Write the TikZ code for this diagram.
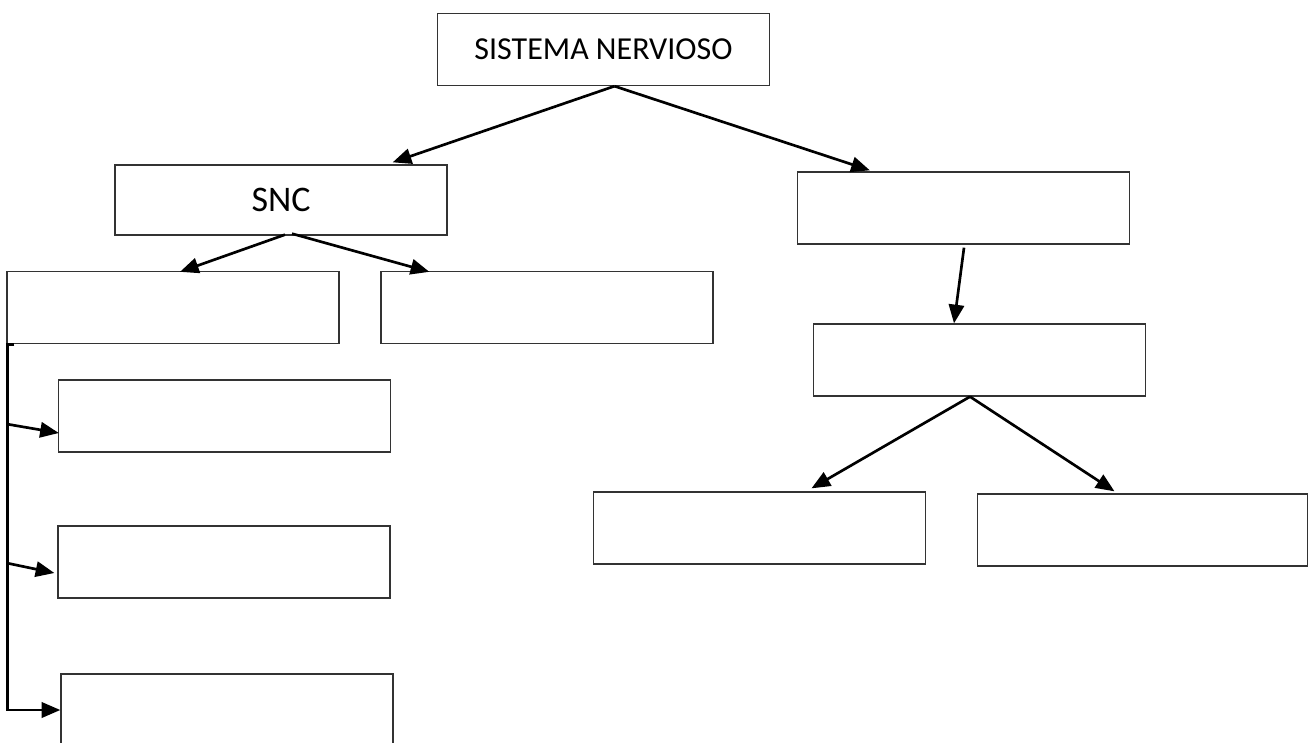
\documentclass[tikz,border=0pt]{standalone}
\usepackage{fontspec}
\setmainfont{Carlito}
\usetikzlibrary{arrows.meta, calc}

\begin{document}
\begin{tikzpicture}[x = 0.75pt, y = -0.75pt, > = {Triangle[length = 14pt, width = 11.5pt]},
	box/.style = {rectangle, draw = black!80, line width = 1pt, inner sep = 0pt, minimum width = 249pt, minimum height = 54pt},
	conn/.style = {->, line width = 2pt, black}]

	\useasboundingbox (0, 0) rectangle (1308, 742);
	\clip (0, 0) rectangle (1308, 742);

	% Boxes

	\node[box, font = \fontsize{24}{28}\selectfont] (sn) at (603.5, 49.5) {SISTEMA NERVIOSO};
	\node[box, minimum height = 52.5pt, font = \fontsize{27}{31}\selectfont] (snc) at (281, 200) {SNC};
	\node[box] (enc) at (173, 307.5) {};
	\node[box] (med) at (547, 307.5) {};
	\node[box] (snp) at (963.5, 208) {};
	\node[box] (som) at (979.5, 360) {};
	\node[box] (sim) at (759.5, 528) {};
	\node[box, minimum width = 248pt] (par) at (1142.5, 530) {};
	\node[box] (ce1) at (224.5, 416) {};
	\node[box] (ce2) at (224, 562) {};
	\node[box] (ce3) at (227, 710) {};

	% Arrows between boxes

	\begin{scope}[conn]

		\draw ($(sn.south) + (11, 0)$) -- ($(snc.north east) + (-55, -2)$);
		\draw ($(sn.south) + (11, 0)$) -- ($(snp.north west) + (73, -1)$);

		\draw ($(snc.south) + (4, -1)$) -- ($(enc.north) + (7, 1)$);
		\draw ($(snc.south) + (11, -2)$) -- ($(med.north west) + (49, 1)$);

		\draw ($(snp.south) + (0.5, 3)$) -- ($(som.north) + (-25.5, 0)$);
		\draw ($(som.south) + (-9.5, 0)$) -- ($(sim.north) + (52, -3)$);
		\draw ($(som.south) + (-9.5, 0)$) -- ($(par.north) + (-28, -2)$);

		% Branch down the left side

		\draw ($(enc.south west) + (8, 0)$) -- ($(enc.south west) + (1, 0)$) |- (ce3.west);
		\draw ($(enc.south west) + (1, 80)$) -- ($(ce1.west) + (1, 17)$);
		\draw ($(enc.south west) + (1, 219)$) -- ($(ce2.west) + (-3, 11)$);

	\end{scope}

\end{tikzpicture}
\end{document}
